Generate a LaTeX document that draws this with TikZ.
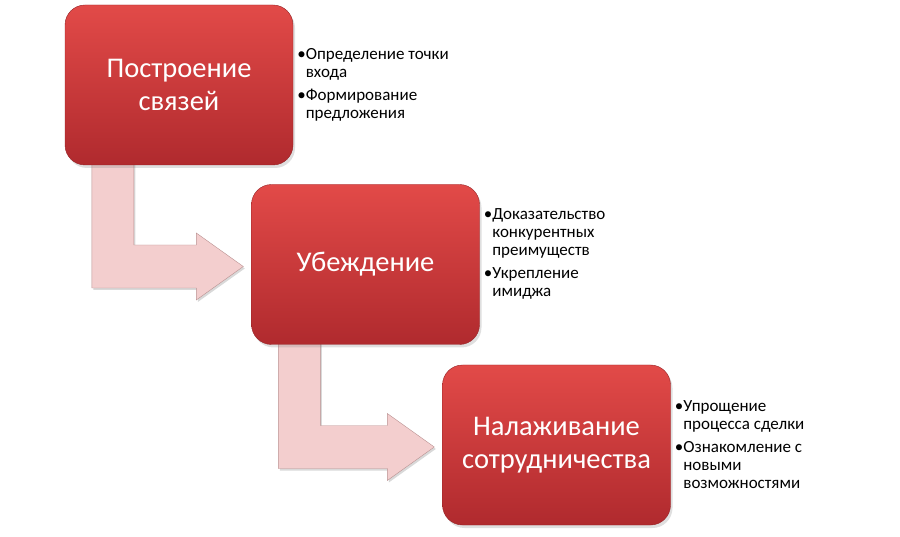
\documentclass[tikz,border=0pt]{standalone}
\usepackage{fontspec}
\setmainfont{Carlito}
\usetikzlibrary{calc,shadows,backgrounds}
\definecolor{boxtop}{RGB}{226,74,72}
\definecolor{boxbot}{RGB}{176,42,46}
\definecolor{arrowpink}{RGB}{243,206,206}
\definecolor{arrowedge}{RGB}{185,145,145}

\begin{document}
\begin{tikzpicture}[x=1pt,y=-1pt]
    \tikzstyle{every node}=[inner sep=0pt]
    \tikzstyle{stage}=[rounded corners=20pt, minimum width=228pt, minimum height=160pt, top color=boxtop, bottom color=boxbot, draw=boxbot!85!black, text=white, align=center, font=\fontsize{28.5}{33}\selectfont, drop shadow={opacity=0.25, shadow xshift=2pt, shadow yshift=-3pt}]
    \tikzstyle{notes}=[anchor=west, align=left, font=\fontsize{17}{18}\selectfont]
    \tikzstyle{bendarrow}=[fill=arrowpink, draw=arrowedge, line join=miter, drop shadow={opacity=0.3, shadow xshift=1.5pt, shadow yshift=-2pt}]
    \useasboundingbox (0,0) rectangle (900,537);
    \node [stage] (b1) at (179,85) {Построение\\связей};
    \node [stage] (b2) at (365.5,264.5) {Убеждение};
    \node [stage] (b3) at (556.5,445) {Налаживание\\сотрудничества};
    \node [notes] (n1) at ($(b1.east)+(4,0)$) {•Определение точки\\\phantom{•}входа\\[5pt]•Формирование\\\phantom{•}предложения};
    \node [notes] (n2) at ($(b2.east)+(4,-11)$) {•Доказательство\\\phantom{•}конкурентных\\\phantom{•}преимуществ\\[5pt]•Укрепление\\\phantom{•}имиджа};
    \node [notes] (n3) at ($(b3.east)+(4,0)$) {•Упрощение\\\phantom{•}процесса сделки\\[5pt]•Ознакомление с\\\phantom{•}новыми\\\phantom{•}возможностями};
    \begin{pgfonlayer}{background}
    \foreach \a/\b in {b1/b2, b2/b3} {
        \coordinate (l) at ($(\a.south west)+(27,-10)$);
        \coordinate (r) at ($(\a.south west)+(69,-10)$);
        \coordinate (t) at ($(\b.west)+(-8,2)$);
        \coordinate (lo) at ($(t)+(0,21.5)$);
        \coordinate (hi) at ($(t)+(0,-21.5)$);
        \draw [bendarrow] (l) -- (l |- lo) -- ($(t)+(-47,21.5)$) -- ($(t)+(-47,33.5)$) -- (t) -- ($(t)+(-47,-33.5)$) -- ($(t)+(-47,-21.5)$) -- (r |- hi) -- (r) -- cycle;
    }
    \end{pgfonlayer}
\end{tikzpicture}
\end{document}
